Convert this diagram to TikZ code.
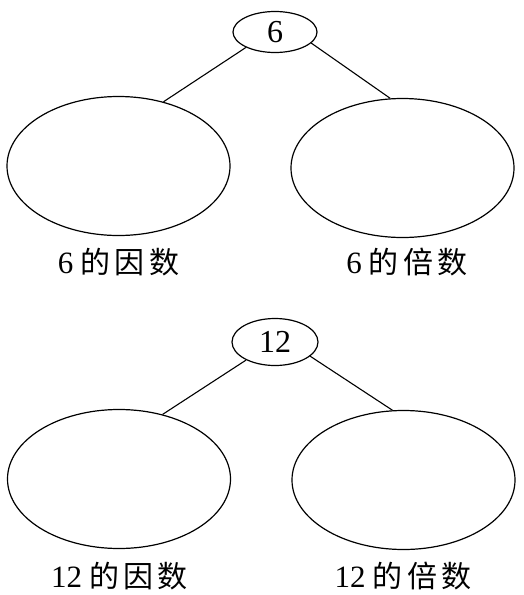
\documentclass[tikz,border=0pt]{standalone}
\usepackage{fontspec}
\setmainfont{Liberation Serif}
\newfontfamily\cjk{Noto Sans CJK SC}
\usetikzlibrary{shapes.geometric}
\tikzset{
  ell/.style={draw, ellipse, inner sep=0pt, line width=1.2pt},
  smallell/.style={ell, minimum width=84pt, minimum height=41pt, font=\fontsize{32pt}{32pt}\selectfont},
  bigell/.style={ell, minimum width=223pt, minimum height=139pt},
  lbl/.style={inner sep=0pt, font=\fontsize{31pt}{31pt}\selectfont},
  conn/.style={line width=1.1pt}
}
\newcommand{\lab}[2]{#1\hspace{7pt}{\cjk\fontsize{30pt}{30pt}\selectfont 的\hspace{4.5pt}#2\hspace{4.5pt}数}}
\begin{document}
\begin{tikzpicture}[x=1pt,y=-1pt]
\useasboundingbox (0,0) rectangle (524,595);
% top
\node[smallell] (s6) at (275,32) {6};
\node[bigell] (L6) at (118.5,166) {};
\node[bigell] (R6) at (402.5,168) {};
\draw[conn] (s6.208) -- (L6.55);
\draw[conn] (s6.343) -- (R6.100);
\node[lbl] (lf6) at (118.5,262.5) {\lab{6}{因}};
\node[lbl] (lm6) at (407,262.5) {\lab{6}{倍}};
% bottom
\node[smallell, minimum width=86pt, minimum height=47pt] (s12) at (275,342) {12};
\node[bigell] (L12) at (119,479) {};
\node[bigell] (R12) at (403.5,480) {};
\draw[conn] (s12.212) -- (L12.56);
\draw[conn] (s12.338) -- (R12.99);
\node[lbl] (lf12) at (119.5,576) {\lab{12}{因}};
\node[lbl] (lm12) at (403,576) {\lab{12}{倍}};
\end{tikzpicture}
\end{document}
